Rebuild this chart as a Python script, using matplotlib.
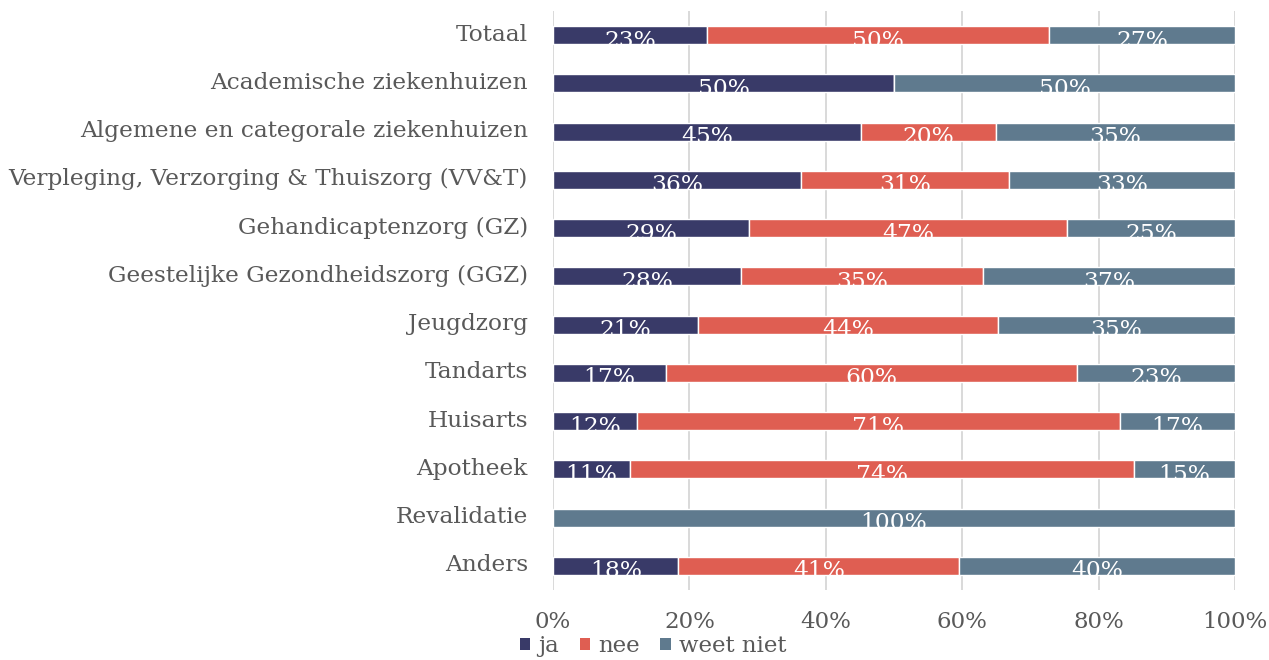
import matplotlib
matplotlib.use("Agg")
import matplotlib.pyplot as plt
from matplotlib.patches import Patch
from matplotlib.transforms import Bbox, TransformedBbox, ScaledTranslation
import numpy as np

plt.rcParams["font.family"] = ["DejaVu Serif"]

categories = [
    "Totaal",
    "Academische ziekenhuizen",
    "Algemene en categorale ziekenhuizen",
    "Verpleging, Verzorging & Thuiszorg (VV&T)",
    "Gehandicaptenzorg (GZ)",
    "Geestelijke Gezondheidszorg (GGZ)",
    "Jeugdzorg",
    "Tandarts",
    "Huisarts",
    "Apotheek",
    "Revalidatie",
    "Anders",
]
series_names = ["ja", "nee", "weet niet"]
ja = [22.6, 50.0, 45.1, 36.3, 28.8, 27.6, 21.3, 16.6, 12.3, 11.3, 0.0, 18.4]
nee = [50.1, 0.0, 19.9, 30.6, 46.6, 35.4, 43.9, 60.2, 70.8, 73.9, 0.0, 41.2]
weet_niet = [27.3, 50.0, 35.0, 33.1, 24.6, 37.0, 34.8, 23.2, 16.9, 14.8, 100.0, 40.4]
x_ticks = [0, 20, 40, 60, 80, 100]

colors = ["#393a68", "#df5e52", "#5f7a8e"]
text_gray = "#595959"
grid_gray = "#d9d9d9"
fs = 16.5

fig = plt.figure(figsize=(12.69, 6.60), dpi=100)
ax = fig.add_axes([553 / 1269, 70 / 660, 682 / 1269, 579 / 660])

y = np.arange(len(categories))
bar_h = 0.375
left = np.zeros(len(categories))
containers = []
for name, vals, col in zip(series_names, [ja, nee, weet_niet], colors):
    vals = np.array(vals)
    bc = ax.barh(y, vals, left=left, height=bar_h, color=col,
                 edgecolor="white", linewidth=1.0, label=name, zorder=3)
    containers.append((bc, vals, left.copy()))
    left = left + vals

ax.set_xlim(0, 100)
ax.set_ylim(len(categories) - 0.5, -0.5)

# value labels, clipped to their own bar segment
for bc, vals, lefts in containers:
    for rect, v, l, yi in zip(bc.patches, vals, lefts, y):
        if v <= 0:
            continue
        t = ax.text(l + v / 2, yi + 0.24, f"{v:.0f}%", ha="center",
                    va="baseline", color="white", fontsize=16.8, zorder=4)
        bb = TransformedBbox(Bbox.from_bounds(l, yi - bar_h / 2, v, bar_h),
                             ax.transData)
        t.set_clip_path(None)
        t.set_clip_box(bb)
        t.set_clip_on(True)

ax.set_xticks(x_ticks)
ax.set_xticklabels([f"{v}%" for v in x_ticks])
ax.set_yticks(y)
ax.set_yticklabels(categories)
ax.tick_params(axis="both", length=0, labelcolor=text_gray)
ax.tick_params(axis="x", pad=15, labelsize=fs)
ax.tick_params(axis="y", pad=18, labelsize=16.75)
shift_up = ScaledTranslation(0, 3 / 100, fig.dpi_scale_trans)
for lbl in ax.get_yticklabels():
    lbl.set_transform(lbl.get_transform() + shift_up)
ax.grid(axis="x", color=grid_gray, linewidth=1.4, zorder=0)
ax.set_axisbelow(True)
for s in ax.spines.values():
    s.set_visible(False)

handles = [Patch(facecolor=c, edgecolor="none") for c in colors]
fig.legend(handles, series_names, loc="center", ncol=3,
           bbox_to_anchor=(653 / 1269, 14 / 660), frameon=False,
           fontsize=fs, labelcolor=text_gray, handlelength=0.45,
           handleheight=0.45, handletextpad=0.35, columnspacing=0.9)

fig.savefig("out.png", dpi=100)
